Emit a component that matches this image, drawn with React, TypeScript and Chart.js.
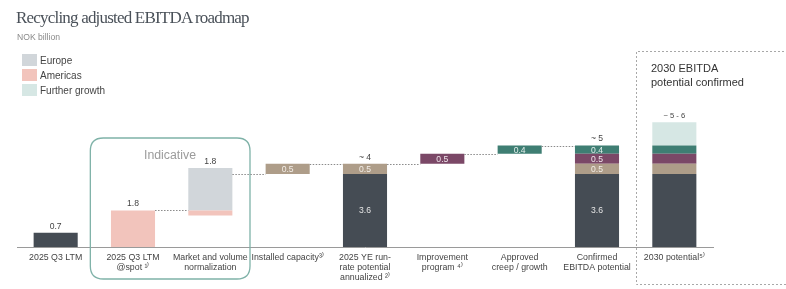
import React, { useEffect, useRef } from "react";
import { Chart, registerables } from "chart.js";

Chart.register(...registerables);

type R = [number, number] | null;

const categories: string[][] = [
  ["2025 Q3 LTM"],
  ["2025 Q3 LTM", "@spot ¹⁾"],
  ["Market and volume", "normalization"],
  ["Installed capacity³⁾"],
  ["2025 YE run-", "rate potential", "annualized ²⁾"],
  ["Improvement", "program ⁴⁾"],
  ["Approved", "creep / growth"],
  ["Confirmed", "EBITDA potential"],
  ["2030 potential⁵⁾"],
];

const coreRange: R[] = [[0, 0.7], null, null, null, [0, 3.6], null, null, [0, 3.6], [0, 3.6]];
const americasRange: R[] = [null, [0, 1.8], [1.55, 1.8], null, null, null, null, null, null];
const europeRange: R[] = [null, null, [1.8, 3.9], null, null, null, null, null, null];
const capacityRange: R[] = [null, null, null, [3.6, 4.1], [3.6, 4.1], null, null, [3.6, 4.1], [3.6, 4.1]];
const improvementRange: R[] = [null, null, null, null, null, [4.1, 4.6], null, [4.1, 4.6], [4.1, 4.6]];
const growthRange: R[] = [null, null, null, null, null, null, [4.6, 5.0], [4.6, 5.0], [4.6, 5.0]];
const furtherRange: R[] = [null, null, null, null, null, null, null, null, [5.0, 6.15]];

const coreLabels = ["", "", "", "", "3.6", "", "", "3.6", ""];
const capacityLabels = ["", "", "", "0.5", "0.5", "", "", "0.5", ""];
const improvementLabels = ["", "", "", "", "", "0.5", "", "0.5", ""];
const growthLabels = ["", "", "", "", "", "", "0.4", "0.4", ""];
const totalLabels = ["0.7", "1.8", "1.8", "", "~ 4", "", "", "~ 5", "~ 5 - 6"];
const connectorLevels: (number | null)[] = [null, 1.8, 3.6, 4.1, 4.1, 4.6, 5.0, null, null];

const seriesDefs = [
  { label: "Core", data: coreRange, color: "#454c54", labels: coreLabels, legend: false, text: "#e4e4e4" },
  { label: "Americas", data: americasRange, color: "#f2c4bc", labels: null, legend: true, text: "#444" },
  { label: "Europe", data: europeRange, color: "#d1d6da", labels: null, legend: true, text: "#444" },
  { label: "Installed capacity", data: capacityRange, color: "#ae9d89", labels: capacityLabels, legend: false, text: "#f3eee8" },
  { label: "Improvement", data: improvementRange, color: "#7b4867", labels: improvementLabels, legend: false, text: "#f0e6ec" },
  { label: "Growth", data: growthRange, color: "#3f7e73", labels: growthLabels, legend: false, text: "#e3efec" },
  { label: "Further growth", data: furtherRange, color: "#d6e7e4", labels: null, legend: true, text: "#444" },
];

const legendOrder = ["Europe", "Americas", "Further growth"];
const FONT = "'Liberation Sans', Arial, sans-serif";

const decorPlugin = {
  id: "decor",
  beforeDatasetsDraw(chart: any) {
    const ctx = chart.ctx;
    const x = chart.scales.x;
    const catW = (x.getPixelForValue(1) - x.getPixelForValue(0));
    ctx.save();
    // Indicative box
    const l = x.getPixelForValue(1) - catW / 2 - 4;
    const r = x.getPixelForValue(2) + catW / 2 + 1;
    const t = 138, b = 279, rad = 13;
    ctx.strokeStyle = "#7fb2a8";
    ctx.lineWidth = 1.3;
    ctx.beginPath();
    ctx.moveTo(l + rad, t);
    ctx.lineTo(r - rad, t);
    ctx.quadraticCurveTo(r, t, r, t + rad);
    ctx.lineTo(r, b - rad);
    ctx.quadraticCurveTo(r, b, r - rad, b);
    ctx.lineTo(l + rad, b);
    ctx.quadraticCurveTo(l, b, l, b - rad);
    ctx.lineTo(l, t + rad);
    ctx.quadraticCurveTo(l, t, l + rad, t);
    ctx.stroke();
    // Dashed 2030 box
    const dl = Math.round((x.getPixelForValue(7) + x.getPixelForValue(8)) / 2) + 0.5;
    ctx.strokeStyle = "#a8a8a8";
    ctx.lineWidth = 1;
    ctx.setLineDash([2, 2]);
    ctx.beginPath();
    ctx.moveTo(800, 51.5);
    ctx.lineTo(dl, 51.5);
    ctx.lineTo(dl, 284.5);
    ctx.lineTo(800, 284.5);
    ctx.stroke();
    ctx.restore();
  },
  afterDatasetsDraw(chart: any) {
    const ctx = chart.ctx;
    const x = chart.scales.x;
    const y = chart.scales.y;
    const barW = chart.getDatasetMeta(0).data[0].width;
    ctx.save();
    // connectors
    ctx.strokeStyle = "#8a8a8a";
    ctx.lineWidth = 1;
    ctx.setLineDash([1.5, 1.5]);
    connectorLevels.forEach((lvl, i) => {
      if (lvl == null) return;
      const py = Math.round(y.getPixelForValue(lvl)) + 0.5;
      ctx.beginPath();
      ctx.moveTo(x.getPixelForValue(i) + barW / 2, py);
      ctx.lineTo(x.getPixelForValue(i + 1) - barW / 2, py);
      ctx.stroke();
    });
    ctx.setLineDash([]);
    // inside labels
    ctx.textAlign = "center";
    ctx.textBaseline = "middle";
    ctx.font = `8.6px ${FONT}`;
    seriesDefs.forEach((s) => {
      if (!s.labels) return;
      s.data.forEach((rg, i) => {
        const txt = s.labels![i];
        if (!rg || !txt) return;
        ctx.fillStyle = s.text;
        const cy = y.getPixelForValue((rg[0] + rg[1]) / 2);
        ctx.fillText(txt, x.getPixelForValue(i), cy + 0.5);
      });
    });
    // total labels
    ctx.fillStyle = "#444";
    totalLabels.forEach((txt, i) => {
      if (!txt) return;
      let top = -Infinity;
      seriesDefs.forEach((s) => {
        const rg = s.data[i];
        if (rg) top = Math.max(top, rg[1]);
      });
      ctx.font = txt.length > 4 ? `7.6px ${FONT}` : `8.6px ${FONT}`;
      ctx.fillText(txt, x.getPixelForValue(i), y.getPixelForValue(top) - 6.5);
    });
    ctx.restore();
  },
};

export default function App() {
  const ref = useRef<HTMLCanvasElement | null>(null);
  useEffect(() => {
    if (!ref.current) return;
    const chart = new Chart(ref.current, {
      type: "bar",
      data: {
        labels: categories,
        datasets: seriesDefs.map((s) => ({
          label: s.label,
          data: s.data as any,
          backgroundColor: s.color,
          borderWidth: 0,
          grouped: false,
          categoryPercentage: 1,
          barPercentage: 0.57,
        })),
      },
      options: {
        responsive: false,
        animation: false,
        devicePixelRatio: 1,
        layout: { padding: { left: 17, right: 73, top: 105, bottom: 0 } },
        plugins: { legend: { display: false }, tooltip: { enabled: false } },
        scales: {
          x: {
            grid: { display: false, drawTicks: false, tickLength: 0 },
            border: { display: true, color: "#9a9a9a", width: 1 },
            ticks: {
              color: "#444",
              font: { family: FONT, size: 8.8, lineHeight: 1.14 },
              padding: 5.5,
              maxRotation: 0,
              autoSkip: false,
            },
            afterFit(scale: any) {
              scale.height = 42;
            },
          },
          y: { display: false, min: 0, max: 7 },
        },
      },
      plugins: [decorPlugin],
    });
    return () => chart.destroy();
  }, []);

  const legendItems = legendOrder.map((n) => seriesDefs.find((s) => s.label === n)!);

  return (
    <div style={{ position: "absolute", left: 0, top: 0, width: 786, height: 289, background: "#fff", overflow: "hidden" }}>
      <canvas ref={ref} width={786} height={289} style={{ position: "absolute", left: 0, top: 0, display: "block" }} />
      <div style={{ position: "absolute", left: 16, top: 8, font: "17px 'Liberation Serif', serif", color: "#4a5159", letterSpacing: -0.8, whiteSpace: "nowrap" }}>
        Recycling adjusted EBITDA roadmap
      </div>
      <div style={{ position: "absolute", left: 17, top: 32, font: `8.6px ${FONT}`, color: "#8a8a8a" }}>NOK billion</div>
      {legendItems.map((s, i) => (
        <div key={s.label} style={{ position: "absolute", left: 22, top: 54 + i * 15, height: 12, display: "flex", alignItems: "center" }}>
          <div style={{ width: 15, height: 12, background: s.color }} />
          <div style={{ marginLeft: 3, font: `10px ${FONT}`, color: "#444", whiteSpace: "nowrap" }}>{s.label}</div>
        </div>
      ))}
      <div style={{ position: "absolute", left: 120, width: 100, top: 148, textAlign: "center", font: `12.3px ${FONT}`, color: "#9b9b9b" }}>Indicative</div>
      <div style={{ position: "absolute", left: 651, top: 61, font: `11px ${FONT}`, lineHeight: "14px", color: "#333" }}>
        2030 EBITDA
        <br />
        potential confirmed
      </div>
    </div>
  );
}
